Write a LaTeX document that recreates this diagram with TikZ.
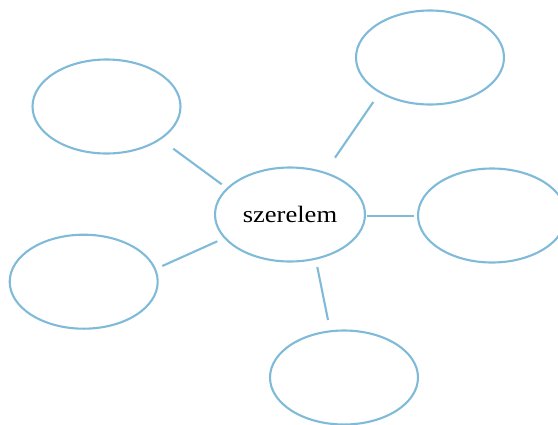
\documentclass[tikz,border=0pt]{standalone}
\usepackage{fontspec}
\setmainfont{Liberation Serif}
\newfontfamily\labelfont[FakeStretch=1.13]{Liberation Serif}
\usetikzlibrary{shapes.geometric,calc}
\definecolor{bubble}{HTML}{7FBBD8}
\tikzset{
  bubblenode/.style={ellipse, draw=bubble, line width=2.1pt, inner sep=0pt,
    minimum width=148pt, minimum height=94pt},
  link/.style={draw=bubble, line width=2.1pt}
}
\begin{document}
\begin{tikzpicture}[x=1pt,y=-1pt]
\useasboundingbox (0,0) rectangle (558,424);
\node[bubblenode, minimum width=150pt] (c) at (290,214.5) {\labelfont\fontsize{23.5}{26}\selectfont szerelem};
\node[bubblenode] (tl) at (106.5,106.5) {};
\node[bubblenode] (tr) at (430,57.5) {};
\node[bubblenode] (r) at (492,215.5) {};
\node[bubblenode] (l) at (83.7,281.7) {};
\node[bubblenode] (b) at (344,377.5) {};
\draw[link] ($(c)+(-68.3,-30.2)$) -- ($(tl)+(66.8,42.2)$);
\draw[link] ($(c)+(45,-56.8)$) -- ($(tr)+(-56.7,44.5)$);
\draw[link] ($(c)+(76.7,1.5)$) -- ($(r)+(-78,0.5)$);
\draw[link] ($(c)+(-72.7,26.8)$) -- ($(l)+(78.6,-15.7)$);
\draw[link] ($(c)+(27.3,52.5)$) -- ($(b)+(-16,-57.5)$);
\end{tikzpicture}
\end{document}
